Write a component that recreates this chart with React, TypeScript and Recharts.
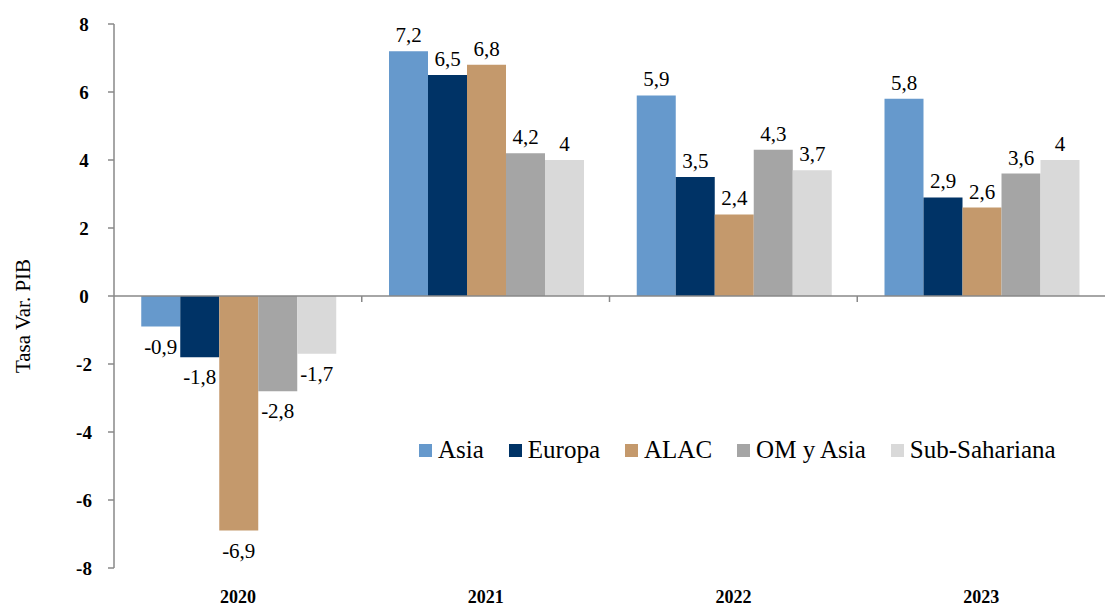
import React from "react";
import { BarChart, Bar, XAxis, YAxis, LabelList, ReferenceLine } from "recharts";

const years = ["2020", "2021", "2022", "2023"];
const asia = [-0.9, 7.2, 5.9, 5.8];
const europa = [-1.8, 6.5, 3.5, 2.9];
const alac = [-6.9, 6.8, 2.4, 2.6];
const omAsia = [-2.8, 4.2, 4.3, 3.6];
const subSahariana = [-1.7, 4, 3.7, 4];
const yTicks = [-8, -6, -4, -2, 0, 2, 4, 6, 8];

const series = [
  { key: "asia", name: "Asia", color: "#6699CC" },
  { key: "europa", name: "Europa", color: "#003366" },
  { key: "alac", name: "ALAC", color: "#C4996C" },
  { key: "omAsia", name: "OM y Asia", color: "#A5A5A5" },
  { key: "subSahariana", name: "Sub-Sahariana", color: "#D9D9D9" },
];

const data = years.map((year, i) => ({
  year,
  asia: asia[i],
  europa: europa[i],
  alac: alac[i],
  omAsia: omAsia[i],
  subSahariana: subSahariana[i],
}));

const FONT = "'Liberation Serif', 'DejaVu Serif', serif";
const AXIS = "#888888";

const fmt = (v: any) => String(v).replace(".", ",");

// zero line with small tick marks at the category boundaries
const ZeroLine = (props: any) => {
  const { x1, y1, x2 } = props;
  const step = (x2 - x1) / years.length;
  return (
    <g>
      <line x1={x1} y1={y1} x2={x2} y2={y1} stroke={AXIS} strokeWidth={1.5} />
      {years.slice(1).map((_, i) => (
        <line key={i} x1={x1 + step * (i + 1)} y1={y1} x2={x1 + step * (i + 1)} y2={y1 + 6} stroke={AXIS} strokeWidth={1.5} />
      ))}
    </g>
  );
};

const LegendBox = () => (
  <div style={{ position: "absolute", top: 434, left: 419, display: "flex", alignItems: "center", fontFamily: FONT, fontSize: 25, lineHeight: "32px", color: "#000", whiteSpace: "nowrap" }}>
    {series.map((s) => (
      <div key={s.key} style={{ display: "flex", alignItems: "center", marginRight: 25 }}>
        <span style={{ display: "inline-block", width: 13, height: 13, background: s.color, marginRight: 6 }} />
        <span>{s.name}</span>
      </div>
    ))}
  </div>
);

const App = () => {
  return (
    <div style={{ position: "absolute", top: 0, left: 0, width: 1107, height: 609, fontFamily: FONT }}>
      <BarChart
        width={1107}
        height={609}
        data={data}
        margin={{ top: 24, right: 2, bottom: 0, left: 0 }}
        barCategoryGap="11%"
        barGap={0}
      >
        <XAxis
          dataKey="year"
          height={41}
          axisLine={false}
          tickLine={false}
          tick={{ fill: "#000", fontSize: 18, fontWeight: "bold", fontFamily: FONT }}
          tickMargin={16}
        />
        <YAxis
          domain={[-8, 8]}
          ticks={yTicks}
          width={114}
          stroke={AXIS}
          axisLine={{ stroke: AXIS, strokeWidth: 1.5 }}
          tickLine={{ stroke: AXIS, strokeWidth: 1.5 }}
          tickSize={6}
          tickMargin={24}
          tick={{ fill: "#000", fontSize: 19, fontWeight: "bold", fontFamily: FONT, textAnchor: "middle" }}
          label={{ value: "Tasa Var. PIB", angle: -90, position: "center", dx: -34, dy: 20, style: { fill: "#000", fontSize: 21, fontFamily: FONT } }}
        />
        <ReferenceLine y={0} shape={<ZeroLine />} />
        {series.map((s) => (
          <Bar key={s.key} dataKey={s.key} name={s.name} fill={s.color} isAnimationActive={false}>
            <LabelList
              dataKey={s.key}
              content={(p: any) => {
                const { x, y, width, height, value } = p;
                const neg = value < 0;
                const top = Math.min(y, y + height);
                const bottom = Math.max(y, y + height);
                const ty = neg ? bottom + 27 : top - 9;
                return (
                  <text x={x + width / 2} y={ty} textAnchor="middle" fill="#000" fontSize={21} fontFamily={FONT}>
                    {fmt(value)}
                  </text>
                );
              }}
            />
          </Bar>
        ))}
      </BarChart>
      <LegendBox />
    </div>
  );
};

export default App;
